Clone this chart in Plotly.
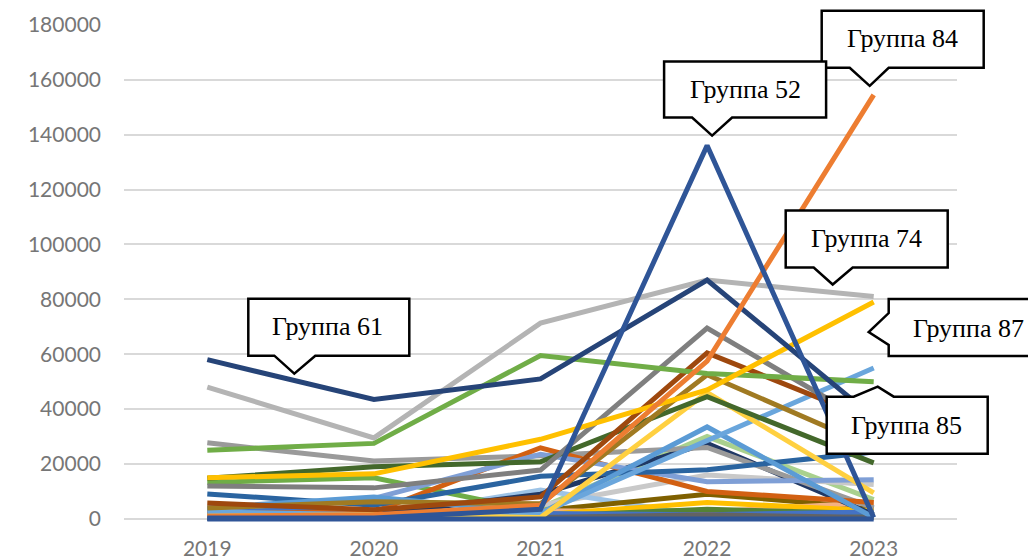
import plotly.graph_objects as go

years = [2019, 2020, 2021, 2022, 2023]
year_labels = ["2019", "2020", "2021", "2022", "2023"]

# series values (2019..2023), drawn in this order
g_light_green = [500, 1000, 4000, 30000, 7000]
g_light_gray = [1000, 1500, 5000, 16000, 12500]
g_pale_blue = [1000, 500, 10500, 1000, 500]
g_green2 = [13300, 15000, 2500, 3000, 1000]
g_olive = [1500, 2000, 3000, 9000, 4000]
g_peach = [500, 1000, 3000, 2500, 6000]
g_yellow_low = [500, 800, 1500, 6000, 3000]
g_green_low = [300, 500, 1000, 3500, 2000]
g_blue_low = [3300, 3000, 2000, 1500, 2500]
g_gray_low = [200, 300, 500, 1500, 500]
g_navy2 = [1000, 1500, 9000, 27500, 1500]
g_gray_mid = [27700, 21100, 23000, 26000, 4000]
g_orange_red = [2000, 2500, 25900, 10000, 6000]
g_periwinkle = [3500, 7500, 23500, 13500, 14300]
g_steel = [9100, 5000, 15500, 17900, 24400]
g_blue_peak = [4000, 8000, 2000, 33500, 500]
g_blue_rise = [2500, 1500, 2000, 28500, 55000]
g_yellow_light = [1000, 1500, 500, 46000, 9500]
g_dark_green = [14800, 19000, 20800, 44500, 20400]
g_gold = [4000, 6200, 5500, 52500, 26000]
g_brown = [5800, 3300, 8000, 60500, 36000]
g_dark_gray = [12000, 11300, 17800, 69500, 34000]
g52 = [300, 300, 3500, 136000, 500]
g61 = [58000, 43500, 51000, 87000, 37000]
g74 = [48000, 29500, 71300, 87000, 81000]
g84 = [1000, 1500, 5000, 57500, 154500]
g85 = [25000, 27500, 59500, 53000, 50000]
g87 = [15000, 16400, 29000, 47000, 79000]
g_zero = [0, 0, 0, 0, 0]

series = [
    ("Группа 1", g_light_green, "#A9D18E"),
    ("Группа 2", g_light_gray, "#C9C9C9"),
    ("Группа 3", g_pale_blue, "#9DC3E6"),
    ("Группа 4", g_green2, "#6FAD47"),
    ("Группа 5", g_olive, "#7F6000"),
    ("Группа 6", g_peach, "#F4B183"),
    ("Группа 7", g_yellow_low, "#FFC000"),
    ("Группа 8", g_green_low, "#548235"),
    ("Группа 9", g_blue_low, "#4472C4"),
    ("Группа 10", g_gray_low, "#636363"),
    ("Группа 11", g_navy2, "#203864"),
    ("Группа 12", g_gray_mid, "#9A9A9A"),
    ("Группа 13", g_orange_red, "#D26012"),
    ("Группа 14", g_periwinkle, "#7F9FD6"),
    ("Группа 15", g_steel, "#2A64A0"),
    ("Группа 16", g_blue_peak, "#5B9BD5"),
    ("Группа 17", g_blue_rise, "#6AA6DC"),
    ("Группа 18", g_yellow_light, "#FFD040"),
    ("Группа 19", g_dark_green, "#43682B"),
    ("Группа 20", g_gold, "#A07A22"),
    ("Группа 21", g_brown, "#9E480E"),
    ("Группа 22", g_dark_gray, "#7F7F7F"),
    ("Группа 85", g85, "#70AD47"),
    ("Группа 87", g87, "#FFC000"),
    ("Группа 74", g74, "#B4B4B4"),
    ("Группа 61", g61, "#264478"),
    ("Группа 84", g84, "#ED7D31"),
    ("Группа 52", g52, "#2F5597"),
    ("Группа 90", g_zero, "#2F5597"),
]

# callouts: (label, series values, year index, box path in px relative to point, text offset)
callouts = [
    ("Группа 84", g84, 4, "M -52,84 L 110,84 L 110,27 L 15,27 L -4,9 L -24,27 L -52,27 Z", (29, 56)),
    ("Группа 52", g52, 3, "M -43,84 L 119,84 L 119,28 L 25,28 L 5,10 L -15,28 L -43,28 Z", (38, 56)),
    ("Группа 74", g74, 4, "M -88,86 L 74,86 L 74,29 L -21,29 L -41,12 L -60,29 L -88,29 Z", (-7, 58)),
    ("Группа 87", g87, 4, "M 15,3 L 220,3 L 220,-54 L 15,-54 L 15,-43 L -5,-30 L 15,-11 Z", (95, -26)),
    ("Группа 85", g85, 4, "M -47,-15 L -20,-15 L 4,-5 L 20,-15 L 114,-15 L 114,-72 L -47,-72 Z", (33, -44)),
    ("Группа 61", g61, 0, "M 41,61 L 202,61 L 202,4 L 108,4 L 87,-14 L 67,4 L 41,4 Z", (120, 33)),
]

X_RANGE = [2018.5, 2023.5]
Y_RANGE = [-1500, 180300]

fig = go.Figure()
for name, vals, color in series:
    fig.add_trace(go.Scatter(
        x=years, y=vals, name=name, mode="lines",
        line=dict(color=color, width=5), hoverinfo="skip",
    ))

shapes = []
annotations = []
for label, vals, idx, path, (dx, dy) in callouts:
    xp = (years[idx] - X_RANGE[0]) / (X_RANGE[1] - X_RANGE[0])
    yp = (vals[idx] - Y_RANGE[0]) / (Y_RANGE[1] - Y_RANGE[0])
    shapes.append(dict(
        type="path", xref="paper", yref="paper",
        xsizemode="pixel", ysizemode="pixel", xanchor=xp, yanchor=yp,
        path=path, fillcolor="white", line=dict(color="black", width=2.5),
        layer="above",
    ))
    annotations.append(dict(
        xref="paper", yref="paper", x=xp, y=yp, xshift=dx, yshift=dy,
        text=label, showarrow=False, xanchor="center", yanchor="middle",
        font=dict(family="Liberation Serif, Times New Roman, serif", size=26, color="black"),
    ))

fig.update_layout(
    width=1028, height=552,
    margin=dict(l=116, r=79, t=16, b=37, autoexpand=False),
    paper_bgcolor="white", plot_bgcolor="white",
    showlegend=False,
    shapes=shapes, annotations=annotations,
    xaxis=dict(
        range=X_RANGE, tickvals=years, ticktext=year_labels,
        showgrid=False, zeroline=False, showline=False, ticks="",
        tickfont=dict(family="Lato", size=21, color="#767676"),
        ticklabelstandoff=11, automargin=False,
    ),
    yaxis=dict(
        range=Y_RANGE, tickvals=list(range(0, 180001, 20000)),
        ticktext=[str(v) for v in range(0, 180001, 20000)],
        showgrid=True, gridcolor="#D9D9D9", gridwidth=2,
        zeroline=False, showline=False, ticks="",
        tickfont=dict(family="Lato", size=21, color="#767676"),
        ticklabelstandoff=22, automargin=False,
    ),
)

fig.write_html("out.html")
